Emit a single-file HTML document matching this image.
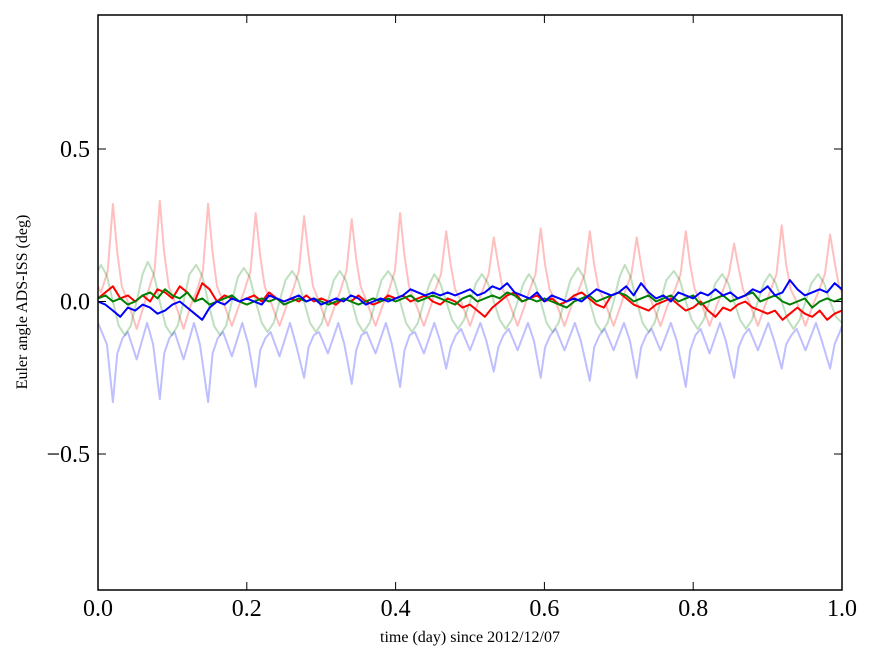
<!DOCTYPE html>
<html><head><meta charset="utf-8"><style>
body{margin:0;background:#fff;}
svg{display:block;font-family:"Liberation Serif",serif;}
</style></head><body>
<svg id="chart" width="875" height="662"></svg>
<script>
const yTicks=[0.5,0.0,-0.5];
const yTickLabels=["0.5","0.0","\u22120.5"];
const xTicks=[0,0.2,0.4,0.6,0.8,1.0];
const xTickLabels=["0.0","0.2","0.4","0.6","0.8","1.0"];
const redFaintT=[0,0.004,0.013,0.020,0.026,0.032,0.040,0.052,0.062,
0.067,0.076,0.083,0.089,0.095,0.103,0.115,0.125,
0.132,0.141,0.148,0.154,0.160,0.168,0.180,0.190,
0.196,0.205,0.212,0.218,0.224,0.232,0.244,0.254,
0.261,0.270,0.277,0.283,0.289,0.297,0.309,0.319,
0.325,0.334,0.341,0.347,0.353,0.361,0.373,0.383,
0.390,0.399,0.406,0.412,0.418,0.426,0.438,0.448,
0.452,0.461,0.468,0.474,0.480,0.488,0.500,0.510,
0.516,0.525,0.532,0.538,0.544,0.552,0.564,0.574,
0.579,0.588,0.595,0.601,0.607,0.615,0.627,0.637,
0.645,0.654,0.661,0.667,0.673,0.681,0.693,0.703,
0.708,0.717,0.724,0.730,0.736,0.744,0.756,0.766,
0.774,0.783,0.790,0.796,0.802,0.810,0.822,0.832,
0.839,0.848,0.855,0.861,0.867,0.875,0.887,0.897,
0.903,0.912,0.919,0.925,0.931,0.939,0.951,0.961,
0.968,0.977,0.984,0.990,0.996,1.0];
const redFaintV=[0.05,0.03,0.1,0.32,0.16,0.05,0.0,-0.09,-0.01,
0.03,0.1,0.33,0.16,0.05,0.0,-0.09,-0.01,
0.03,0.1,0.32,0.16,0.05,0.0,-0.08,-0.01,
0.03,0.1,0.29,0.15,0.05,0.0,-0.08,-0.01,
0.03,0.1,0.28,0.15,0.05,0.0,-0.08,-0.01,
0.03,0.1,0.27,0.14,0.05,0.0,-0.08,-0.01,
0.03,0.1,0.29,0.15,0.05,0.0,-0.08,-0.01,
0.03,0.09,0.23,0.12,0.04,0.0,-0.08,-0.01,
0.03,0.09,0.21,0.12,0.04,0.0,-0.08,-0.01,
0.03,0.09,0.24,0.12,0.04,0.0,-0.08,-0.01,
0.03,0.09,0.23,0.12,0.04,0.0,-0.08,-0.01,
0.03,0.09,0.21,0.12,0.04,0.0,-0.08,-0.01,
0.03,0.09,0.23,0.12,0.04,0.0,-0.08,-0.01,
0.03,0.09,0.19,0.11,0.04,0.0,-0.08,-0.01,
0.03,0.09,0.25,0.12,0.04,0.0,-0.08,-0.01,
0.03,0.09,0.22,0.13,0.05,0.03];
const blueFaintT=[0,0.012,
0.020,0.026,0.033,0.040,0.052,0.066,0.074,
0.083,0.089,0.096,0.103,0.115,0.129,0.137,
0.148,0.154,0.161,0.168,0.180,0.194,0.202,
0.212,0.218,0.225,0.232,0.244,0.258,0.266,
0.277,0.283,0.290,0.297,0.309,0.323,0.331,
0.341,0.347,0.354,0.361,0.373,0.387,0.395,
0.406,0.412,0.419,0.426,0.438,0.452,0.460,
0.468,0.474,0.481,0.488,0.500,0.514,0.522,
0.532,0.538,0.545,0.552,0.564,0.578,0.586,
0.595,0.601,0.608,0.615,0.627,0.641,0.649,
0.661,0.667,0.674,0.681,0.693,0.707,0.715,
0.724,0.730,0.737,0.744,0.756,0.770,0.778,
0.790,0.796,0.803,0.810,0.822,0.836,0.844,
0.855,0.861,0.868,0.875,0.887,0.901,0.909,
0.919,0.925,0.932,0.939,0.951,0.965,0.973,
0.984,0.990,0.997,1.0];
const blueFaintV=[-0.07,-0.14,
-0.33,-0.17,-0.12,-0.1,-0.19,-0.07,-0.14,
-0.32,-0.17,-0.12,-0.1,-0.19,-0.07,-0.14,
-0.33,-0.17,-0.12,-0.1,-0.18,-0.07,-0.14,
-0.28,-0.16,-0.12,-0.1,-0.18,-0.07,-0.14,
-0.25,-0.15,-0.11,-0.1,-0.17,-0.07,-0.14,
-0.27,-0.16,-0.11,-0.1,-0.17,-0.07,-0.14,
-0.28,-0.16,-0.11,-0.1,-0.17,-0.07,-0.13,
-0.22,-0.15,-0.11,-0.09,-0.16,-0.07,-0.13,
-0.23,-0.15,-0.11,-0.09,-0.16,-0.07,-0.13,
-0.25,-0.15,-0.11,-0.09,-0.16,-0.07,-0.13,
-0.26,-0.15,-0.11,-0.09,-0.16,-0.07,-0.13,
-0.25,-0.15,-0.11,-0.09,-0.16,-0.07,-0.13,
-0.28,-0.16,-0.11,-0.09,-0.17,-0.07,-0.13,
-0.25,-0.15,-0.11,-0.09,-0.16,-0.07,-0.13,
-0.22,-0.14,-0.11,-0.09,-0.16,-0.07,-0.13,
-0.22,-0.14,-0.1,-0.08];
const greenFaintT=[0,
0.004,0.012,0.020,0.028,0.036,0.044,0.052,0.060,
0.067,0.075,0.083,0.091,0.099,0.107,0.115,0.123,
0.132,0.140,0.148,0.156,0.164,0.172,0.180,0.188,
0.196,0.204,0.212,0.220,0.228,0.236,0.244,0.252,
0.261,0.269,0.277,0.285,0.293,0.301,0.309,0.317,
0.325,0.333,0.341,0.349,0.357,0.365,0.373,0.381,
0.390,0.398,0.406,0.414,0.422,0.430,0.438,0.446,
0.452,0.460,0.468,0.476,0.484,0.492,0.500,0.508,
0.516,0.524,0.532,0.540,0.548,0.556,0.564,0.572,
0.579,0.587,0.595,0.603,0.611,0.619,0.627,0.635,
0.645,0.653,0.661,0.669,0.677,0.685,0.693,0.701,
0.708,0.716,0.724,0.732,0.740,0.748,0.756,0.764,
0.774,0.782,0.790,0.798,0.806,0.814,0.822,0.830,
0.839,0.847,0.855,0.863,0.871,0.879,0.887,0.895,
0.903,0.911,0.919,0.927,0.935,0.943,0.951,0.959,
0.968,0.976,0.984,0.992,1.0];
const greenFaintV=[0.1,
0.12,0.085,0.0,-0.08,-0.11,-0.08,0.0,0.09,
0.13,0.09,0.0,-0.08,-0.11,-0.08,0.0,0.09,
0.12,0.085,0.0,-0.08,-0.11,-0.08,0.0,0.08,
0.11,0.08,0.0,-0.07,-0.1,-0.07,0.0,0.07,
0.1,0.07,0.0,-0.07,-0.1,-0.07,0.0,0.07,
0.1,0.07,0.0,-0.07,-0.1,-0.07,0.0,0.07,
0.1,0.07,0.0,-0.07,-0.1,-0.07,0.0,0.06,
0.09,0.06,0.0,-0.06,-0.09,-0.06,0.0,0.06,
0.09,0.06,0.0,-0.06,-0.09,-0.06,0.0,0.06,
0.09,0.06,0.0,-0.07,-0.1,-0.07,0.0,0.07,
0.11,0.08,0.0,-0.07,-0.1,-0.07,0.0,0.08,
0.12,0.08,0.0,-0.07,-0.1,-0.07,0.0,0.07,
0.1,0.07,0.0,-0.06,-0.09,-0.06,0.0,0.06,
0.09,0.06,0.0,-0.06,-0.09,-0.06,0.0,0.06,
0.09,0.06,0.0,-0.06,-0.09,-0.06,0.0,0.06,
0.09,0.06,0.0,-0.05,-0.07];
const redBold=[0.01,0.03,0.05,0.01,0.02,0.0,0.02,0.0,0.04,0.03,0.01,0.05,0.03,0.0,0.06,0.04,0.0,0.02,0.01,0.0,0.01,0.02,0.0,0.03,0.01,0.0,0.01,0.0,0.02,0.0,0.01,0.0,-0.01,0.01,0.0,0.02,0.0,-0.01,0.0,0.02,0.01,0.02,0.0,0.01,0.02,0.0,-0.01,0.01,0.0,-0.02,-0.01,-0.03,-0.05,-0.02,0.0,0.02,0.03,0.0,0.01,0.02,0.0,0.01,-0.01,0.0,0.02,0.03,0.01,-0.01,-0.02,0.02,0.03,0.01,-0.01,-0.02,-0.03,-0.01,0.0,0.01,-0.01,-0.03,-0.02,0.0,-0.03,-0.05,-0.02,-0.03,-0.01,0.0,-0.02,-0.03,-0.04,-0.03,-0.06,-0.04,-0.02,-0.04,-0.05,-0.03,-0.06,-0.04,-0.03];
const blueBold=[0.0,-0.01,-0.03,-0.05,-0.02,-0.03,-0.01,-0.02,-0.04,-0.03,-0.01,0.0,-0.02,-0.04,-0.06,-0.02,0.0,-0.01,0.01,0.0,0.01,0.0,-0.01,0.02,0.01,0.0,0.01,0.02,0.0,0.01,-0.01,0.0,0.01,0.0,0.02,0.01,-0.01,0.0,0.01,0.0,0.01,0.02,0.04,0.03,0.02,0.03,0.02,0.03,0.02,0.03,0.04,0.02,0.03,0.05,0.04,0.06,0.03,0.02,0.01,0.03,0.0,0.02,0.01,0.0,0.01,0.0,0.02,0.04,0.03,0.02,0.03,0.05,0.02,0.06,0.03,0.01,0.02,0.0,0.03,0.02,0.01,0.03,0.02,0.04,0.02,0.03,0.01,0.02,0.04,0.03,0.05,0.02,0.03,0.07,0.04,0.02,0.03,0.04,0.03,0.06,0.04];
const greenBold=[0.01,0.02,0.0,0.01,-0.01,0.0,0.02,0.03,0.01,0.04,0.02,0.01,0.03,0.0,0.01,-0.01,0.0,0.01,0.02,0.0,-0.01,0.0,0.01,0.0,0.01,-0.01,0.0,0.01,0.0,0.01,0.0,-0.01,0.0,0.01,0.0,-0.01,0.0,0.01,0.0,0.01,0.0,0.01,0.02,0.0,0.01,0.02,0.01,0.0,-0.01,0.01,0.02,0.0,0.01,0.02,0.01,0.03,0.02,0.0,0.01,0.0,0.01,0.0,-0.01,-0.02,0.0,0.01,0.02,0.0,0.01,0.02,0.03,0.02,0.0,0.01,0.02,0.0,0.01,0.02,0.0,0.01,0.02,-0.01,0.0,0.01,0.02,0.0,0.01,0.02,0.03,0.0,0.01,0.02,0.0,-0.01,0.0,0.01,-0.02,0.0,0.01,0.0,0.01];

const NS="http://www.w3.org/2000/svg";
const svg=document.getElementById('chart');
const L=98,R=842,T=15,B=590;
function xs(v){return L+v*(R-L);}
function ys(v){return 301.5-v*305;}
function mk(tag,attrs,parent){const e=document.createElementNS(NS,tag);for(const k in attrs)e.setAttribute(k,attrs[k]);(parent||svg).appendChild(e);return e;}
const clip=mk('clipPath',{id:'pc'});mk('rect',{x:L,y:T,width:R-L,height:B-T},clip);
const g=mk('g',{'clip-path':'url(#pc)'});


function evenT(n){const a=[];for(let i=0;i<n;i++)a.push(i/(n-1));return a;}
function line(tArr,vArr,color,op,w,name){
  const n=Math.min(tArr.length,vArr.length);
  const pts=[];for(let i=0;i<n;i++)pts.push(xs(tArr[i]).toFixed(1)+','+ys(vArr[i]).toFixed(1));
  const p=mk('polyline',{points:pts.join(' '),fill:'none',stroke:color,'stroke-opacity':op,'stroke-width':w,'stroke-linejoin':'round'},g);
  
  
}
line(redFaintT,redFaintV,'#ff0000',0.25,2,'red-faint-series');
line(greenFaintT,greenFaintV,'#008000',0.25,2,'green-faint-series');
line(blueFaintT,blueFaintV,'#0000ff',0.25,2,'blue-faint-series');
line(evenT(redBold.length),redBold,'#ff0000',1,2,'red-series');
line(evenT(greenBold.length),greenBold,'#008000',1,2,'green-series');
line(evenT(blueBold.length),blueBold,'#0000ff',1,2,'blue-series');
const frame=mk('rect',{x:L,y:T,width:R-L,height:B-T,fill:'none',stroke:'#000','stroke-width':1.5});


yTicks.forEach((v,i)=>{
  const y=ys(v);
  mk('line',{x1:L,x2:L+8,y1:y,y2:y,stroke:'#000'});
  mk('line',{x1:R,x2:R-8,y1:y,y2:y,stroke:'#000'});
  const t=mk('text',{x:L-8,y:y+8,'text-anchor':'end','font-size':24});
  t.textContent=yTickLabels[i];
  
  
});
xTicks.forEach((v,i)=>{
  const x=xs(v);
  mk('line',{x1:x,x2:x,y1:B,y2:B-8,stroke:'#000'});
  mk('line',{x1:x,x2:x,y1:T,y2:T+8,stroke:'#000'});
  const t=mk('text',{x:x,y:B+26,'text-anchor':'middle','font-size':24});
  t.textContent=xTickLabels[i];
  
  
});
const xl=mk('text',{x:470,y:642,'text-anchor':'middle','font-size':16});
xl.textContent='time (day) since 2012/12/07';


const yl=mk('text',{x:0,y:0,'text-anchor':'middle','font-size':16,transform:'translate(27,302) rotate(-90)'});
yl.textContent='Euler angle ADS-ISS (deg)';


</script>
</body></html>
